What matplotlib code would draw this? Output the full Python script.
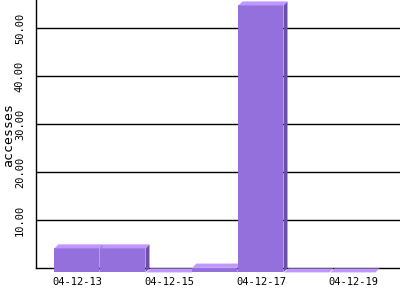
import matplotlib
matplotlib.use('Agg')
import matplotlib.pyplot as plt
from matplotlib.patches import Polygon

# daily access counts
dates = ['04-12-13', '04-12-14', '04-12-15', '04-12-16', '04-12-17', '04-12-18', '04-12-19']
accesses = [5, 5, 0, 1, 55.5, 0, 0]
yticks = [10, 20, 30, 40, 50]

front_color = '#9370db'
top_color = '#c096ff'
side_color = '#6a50a8'

fig = plt.figure(figsize=(4, 3), dpi=100)
ax = fig.add_axes([36 / 400, 31.6 / 300, 364 / 400, 268.4 / 300])
ax.set_xlim(-0.978, 6.935)
ax.set_ylim(0, 55.8)

# 3d offset of the front face, in data units (about 4 px each way)
dx = 4 / 46
dy = 4 / 4.81
w = 45 / 46

for i, v in enumerate(accesses):
    xb = i - w / 2
    xf = xb - dx
    front = Polygon([(xf, -dy), (xf + w, -dy), (xf + w, v - dy), (xf, v - dy)],
                    closed=True, facecolor=front_color, edgecolor='none',
                    clip_on=False, zorder=3)
    side = Polygon([(xf + w, -dy), (xb + w, 0), (xb + w, v), (xf + w, v - dy)],
                   closed=True, facecolor=side_color, edgecolor='none',
                   clip_on=False, zorder=3)
    top = Polygon([(xf, v - dy), (xf + w, v - dy), (xb + w, v), (xb, v)],
                  closed=True, facecolor=top_color, edgecolor='none',
                  clip_on=False, zorder=3)
    ax.add_patch(side)
    ax.add_patch(front)
    ax.add_patch(top)

ax.set_yticks(yticks)
ax.set_yticklabels(['%.2f' % t for t in yticks], rotation=90, va='center',
                   family='DejaVu Sans Mono', fontsize=7.5)
ax.yaxis.grid(True, color='black', linewidth=1)
ax.set_axisbelow(True)

xt = list(range(0, len(dates), 2))
ax.set_xticks([i - dx for i in xt])
ax.set_xticklabels([dates[i] for i in xt], family='DejaVu Sans Mono', fontsize=7.5)
ax.tick_params(axis='x', length=0, pad=6)
ax.tick_params(axis='y', length=0, pad=8)

for s in ['top', 'right']:
    ax.spines[s].set_visible(False)
for s in ['left', 'bottom']:
    ax.spines[s].set_color('black')
    ax.spines[s].set_linewidth(1)

fig.text(9 / 400, 1 - 135 / 300, 'accesses', rotation=90, ha='center', va='center',
         family='DejaVu Sans Mono', fontsize=9.5)

fig.savefig('out.png', dpi=100)
